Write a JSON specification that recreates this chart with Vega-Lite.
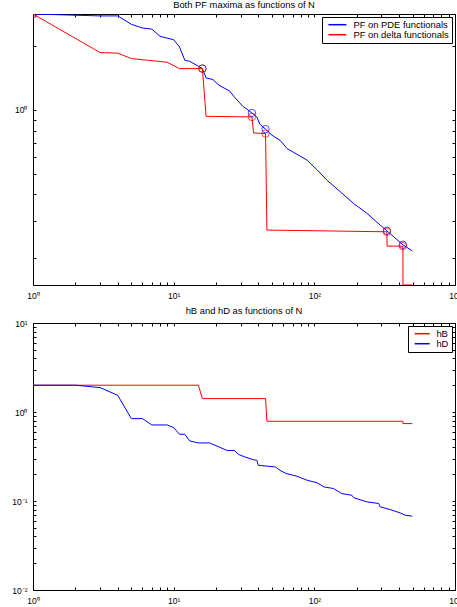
{
  "$schema": "https://vega.github.io/schema/vega-lite/v6.json",
  "padding": {"left": 11, "top": 0, "right": 0, "bottom": 0},
  "spacing": 5,
  "resolve": {"scale": {"color": "independent", "stroke": "independent"}, "legend": {"color": "independent"}},
  "config": {
    "font": "Liberation Sans",
    "view": {"stroke": null},
    "axis": {"grid": false, "title": null, "labelFontSize": 8.5, "labelColor": "#000", "tickColor": "#000", "domainColor": "#000", "domainWidth": 1, "tickSize": -3, "labelPadding": 9, "labelOverlap": false, "labelFlush": false},
    "title": {"fontSize": 9.4, "fontWeight": "normal", "color": "#000", "anchor": "middle", "offset": 3},
    "legend": {"title": null, "strokeColor": "#000", "fillColor": "#fff", "padding": 3, "labelFontSize": 9.4, "labelColor": "#000", "symbolStrokeWidth": 1.5, "orient": "none"}
  },
  "datasets": {
    "top": [
      {"N": 1, "v": 2.828, "s": "PF on PDE functionals"},
      {"N": 3, "v": 2.77, "s": "PF on PDE functionals"},
      {"N": 4, "v": 2.77, "s": "PF on PDE functionals"},
      {"N": 5, "v": 2.53, "s": "PF on PDE functionals"},
      {"N": 6, "v": 2.43, "s": "PF on PDE functionals"},
      {"N": 7, "v": 2.40, "s": "PF on PDE functionals"},
      {"N": 8, "v": 2.22, "s": "PF on PDE functionals"},
      {"N": 10, "v": 2.14, "s": "PF on PDE functionals"},
      {"N": 11, "v": 1.98, "s": "PF on PDE functionals"},
      {"N": 12, "v": 1.713, "s": "PF on PDE functionals"},
      {"N": 13, "v": 1.694, "s": "PF on PDE functionals"},
      {"N": 15, "v": 1.605, "s": "PF on PDE functionals"},
      {"N": 16, "v": 1.565, "s": "PF on PDE functionals"},
      {"N": 17, "v": 1.414, "s": "PF on PDE functionals"},
      {"N": 19, "v": 1.39, "s": "PF on PDE functionals"},
      {"N": 21, "v": 1.306, "s": "PF on PDE functionals"},
      {"N": 25, "v": 1.228, "s": "PF on PDE functionals"},
      {"N": 27, "v": 1.151, "s": "PF on PDE functionals"},
      {"N": 31, "v": 1.041, "s": "PF on PDE functionals"},
      {"N": 36, "v": 0.968, "s": "PF on PDE functionals"},
      {"N": 39, "v": 0.927, "s": "PF on PDE functionals"},
      {"N": 41, "v": 0.857, "s": "PF on PDE functionals"},
      {"N": 45, "v": 0.812, "s": "PF on PDE functionals"},
      {"N": 50, "v": 0.760, "s": "PF on PDE functionals"},
      {"N": 57, "v": 0.720, "s": "PF on PDE functionals"},
      {"N": 64, "v": 0.658, "s": "PF on PDE functionals"},
      {"N": 75, "v": 0.619, "s": "PF on PDE functionals"},
      {"N": 89, "v": 0.580, "s": "PF on PDE functionals"},
      {"N": 105, "v": 0.521, "s": "PF on PDE functionals"},
      {"N": 123, "v": 0.467, "s": "PF on PDE functionals"},
      {"N": 153, "v": 0.412, "s": "PF on PDE functionals"},
      {"N": 190, "v": 0.363, "s": "PF on PDE functionals"},
      {"N": 237, "v": 0.326, "s": "PF on PDE functionals"},
      {"N": 294, "v": 0.287, "s": "PF on PDE functionals"},
      {"N": 328, "v": 0.270, "s": "PF on PDE functionals"},
      {"N": 426, "v": 0.232, "s": "PF on PDE functionals"},
      {"N": 497, "v": 0.217, "s": "PF on PDE functionals"},
      {"N": 1, "v": 2.828, "s": "PF on delta functionals"},
      {"N": 3, "v": 1.862, "s": "PF on delta functionals"},
      {"N": 4, "v": 1.85, "s": "PF on delta functionals"},
      {"N": 5, "v": 1.745, "s": "PF on delta functionals"},
      {"N": 9, "v": 1.676, "s": "PF on delta functionals"},
      {"N": 11, "v": 1.565, "s": "PF on delta functionals"},
      {"N": 16, "v": 1.565, "s": "PF on delta functionals"},
      {"N": 17, "v": 0.933, "s": "PF on delta functionals"},
      {"N": 36, "v": 0.927, "s": "PF on delta functionals"},
      {"N": 37, "v": 0.779, "s": "PF on delta functionals"},
      {"N": 45, "v": 0.774, "s": "PF on delta functionals"},
      {"N": 46, "v": 0.272, "s": "PF on delta functionals"},
      {"N": 328, "v": 0.267, "s": "PF on delta functionals"},
      {"N": 329, "v": 0.2286, "s": "PF on delta functionals"},
      {"N": 426, "v": 0.2286, "s": "PF on delta functionals"},
      {"N": 427, "v": 0.15, "s": "PF on delta functionals"},
      {"N": 497, "v": 0.15, "s": "PF on delta functionals"}
    ],
    "marks": [
      {"N": 1, "v": 2.828, "s": "PF on PDE functionals"},
      {"N": 16, "v": 1.565, "s": "PF on PDE functionals"},
      {"N": 36, "v": 0.968, "s": "PF on PDE functionals"},
      {"N": 45, "v": 0.812, "s": "PF on PDE functionals"},
      {"N": 328, "v": 0.270, "s": "PF on PDE functionals"},
      {"N": 426, "v": 0.232, "s": "PF on PDE functionals"},
      {"N": 1, "v": 2.828, "s": "PF on delta functionals"},
      {"N": 16, "v": 1.565, "s": "PF on delta functionals"},
      {"N": 36, "v": 0.927, "s": "PF on delta functionals"},
      {"N": 45, "v": 0.774, "s": "PF on delta functionals"},
      {"N": 328, "v": 0.267, "s": "PF on delta functionals"},
      {"N": 426, "v": 0.2286, "s": "PF on delta functionals"}
    ],
    "bot": [
      {"N": 1, "v": 2.0, "s": "hB"},
      {"N": 15, "v": 2.0, "s": "hB"},
      {"N": 16, "v": 1.414, "s": "hB"},
      {"N": 45, "v": 1.414, "s": "hB"},
      {"N": 46, "v": 0.787, "s": "hB"},
      {"N": 426, "v": 0.787, "s": "hB"},
      {"N": 427, "v": 0.741, "s": "hB"},
      {"N": 497, "v": 0.741, "s": "hB"},
      {"N": 1, "v": 2.0, "s": "hD"},
      {"N": 2, "v": 2.0, "s": "hD"},
      {"N": 3, "v": 1.88, "s": "hD"},
      {"N": 4, "v": 1.54, "s": "hD"},
      {"N": 5, "v": 0.843, "s": "hD"},
      {"N": 6, "v": 0.843, "s": "hD"},
      {"N": 7, "v": 0.715, "s": "hD"},
      {"N": 9, "v": 0.715, "s": "hD"},
      {"N": 10, "v": 0.668, "s": "hD"},
      {"N": 11, "v": 0.562, "s": "hD"},
      {"N": 12, "v": 0.562, "s": "hD"},
      {"N": 13, "v": 0.473, "s": "hD"},
      {"N": 15, "v": 0.449, "s": "hD"},
      {"N": 18, "v": 0.449, "s": "hD"},
      {"N": 21, "v": 0.405, "s": "hD"},
      {"N": 24, "v": 0.369, "s": "hD"},
      {"N": 27, "v": 0.369, "s": "hD"},
      {"N": 29, "v": 0.333, "s": "hD"},
      {"N": 32, "v": 0.313, "s": "hD"},
      {"N": 37, "v": 0.290, "s": "hD"},
      {"N": 39, "v": 0.287, "s": "hD"},
      {"N": 40, "v": 0.252, "s": "hD"},
      {"N": 53, "v": 0.241, "s": "hD"},
      {"N": 57, "v": 0.221, "s": "hD"},
      {"N": 63, "v": 0.204, "s": "hD"},
      {"N": 75, "v": 0.190, "s": "hD"},
      {"N": 89, "v": 0.171, "s": "hD"},
      {"N": 105, "v": 0.160, "s": "hD"},
      {"N": 117, "v": 0.144, "s": "hD"},
      {"N": 137, "v": 0.138, "s": "hD"},
      {"N": 157, "v": 0.121, "s": "hD"},
      {"N": 185, "v": 0.116, "s": "hD"},
      {"N": 190, "v": 0.109, "s": "hD"},
      {"N": 237, "v": 0.0977, "s": "hD"},
      {"N": 287, "v": 0.0937, "s": "hD"},
      {"N": 294, "v": 0.0859, "s": "hD"},
      {"N": 346, "v": 0.0802, "s": "hD"},
      {"N": 408, "v": 0.0734, "s": "hD"},
      {"N": 442, "v": 0.0692, "s": "hD"},
      {"N": 497, "v": 0.0675, "s": "hD"}
    ]
  },
  "vconcat": [
    {
      "width": 422,
      "height": 271,
      "title": "Both PF maxima as functions of N",
      "layer": [
        {
          "data": {"name": "top"},
          "mark": {"type": "line", "strokeWidth": 1, "clip": true},
          "encoding": {
            "x": {"field": "N", "type": "quantitative", "scale": {"type": "log", "domain": [1, 1000], "nice": false},
              "axis": {"orient": "bottom", "values": [1,2,3,4,5,6,7,8,9,10,20,30,40,50,60,70,80,90,100,200,300,400,500,600,700,800,900,1000],
                "labelExpr": "datum.value==1?'10⁰':datum.value==10?'10¹':datum.value==100?'10²':datum.value==1000?'10³':''"}},
            "y": {"field": "v", "type": "quantitative", "scale": {"type": "log", "domain": [0.15, 2.828], "nice": false},
              "axis": {"orient": "left", "values": [0.2,0.3,0.4,0.5,0.6,0.7,0.8,0.9,1,2],
                "labelExpr": "datum.value==1?'10⁰':''"}},
            "color": {"field": "s", "type": "nominal",
              "scale": {"domain": ["PF on PDE functionals", "PF on delta functionals"], "range": ["#0000ff", "#ff0000"]},
              "legend": {"symbolType": "M-3,0H3", "symbolSize": 36, "symbolOffset": 7.7, "labelOffset": 11.3, "rowPadding": -5.5, "legendX": 289, "legendY": 3}},
            "order": {"field": "N", "type": "quantitative"}
          }
        },
        {
          "data": {"name": "marks"},
          "mark": {"type": "point", "shape": "circle", "filled": false, "size": 55, "strokeWidth": 1, "clip": true},
          "encoding": {
            "x": {"field": "N", "type": "quantitative", "scale": {"type": "log", "domain": [1, 1000], "nice": false},
              "axis": {"orient": "top", "labels": false, "values": [1,2,3,4,5,6,7,8,9,10,20,30,40,50,60,70,80,90,100,200,300,400,500,600,700,800,900,1000]}},
            "y": {"field": "v", "type": "quantitative", "scale": {"type": "log", "domain": [0.15, 2.828], "nice": false},
              "axis": {"orient": "right", "labels": false, "values": [0.2,0.3,0.4,0.5,0.6,0.7,0.8,0.9,1,2]}},
            "stroke": {"field": "s", "type": "nominal",
              "scale": {"domain": ["PF on PDE functionals", "PF on delta functionals"], "range": ["#0000ff", "#ff0000"]},
              "legend": null}
          }
        }
      ]
    },
    {
      "width": 422,
      "height": 267,
      "title": "hB and hD as functions of N",
      "layer": [
        {
          "data": {"name": "bot"},
          "mark": {"type": "line", "strokeWidth": 1, "clip": true},
          "encoding": {
            "x": {"field": "N", "type": "quantitative", "scale": {"type": "log", "domain": [1, 1000], "nice": false},
              "axis": {"orient": "bottom", "values": [1,2,3,4,5,6,7,8,9,10,20,30,40,50,60,70,80,90,100,200,300,400,500,600,700,800,900,1000],
                "labelExpr": "datum.value==1?'10⁰':datum.value==10?'10¹':datum.value==100?'10²':datum.value==1000?'10³':''"}},
            "y": {"field": "v", "type": "quantitative", "scale": {"type": "log", "domain": [0.01, 10], "nice": false},
              "axis": {"orient": "left", "values": [0.01,0.02,0.03,0.04,0.05,0.06,0.07,0.08,0.09,0.1,0.2,0.3,0.4,0.5,0.6,0.7,0.8,0.9,1,2,3,4,5,6,7,8,9,10],
                "labelExpr": "datum.value==0.01?'10⁻²':datum.value==0.1?'10⁻¹':datum.value==1?'10⁰':datum.value==10?'10¹':''"}},
            "color": {"field": "s", "type": "nominal",
              "scale": {"domain": ["hB", "hD"], "range": ["#ff0000", "#0000ff"]},
              "legend": {"symbolType": "M-2.5,0H2.5", "symbolSize": 36, "symbolOffset": 6.5, "labelOffset": 9.5, "rowPadding": -1, "legendX": 375, "legendY": 3}},
            "order": {"field": "N", "type": "quantitative"}
          }
        },
        {
          "data": {"name": "bot"},
          "mark": {"type": "rule", "opacity": 0},
          "encoding": {
            "x": {"field": "N", "type": "quantitative", "scale": {"type": "log", "domain": [1, 1000], "nice": false},
              "axis": {"orient": "top", "labels": false, "values": [1,2,3,4,5,6,7,8,9,10,20,30,40,50,60,70,80,90,100,200,300,400,500,600,700,800,900,1000]}},
            "y": {"field": "v", "type": "quantitative", "scale": {"type": "log", "domain": [0.01, 10], "nice": false},
              "axis": {"orient": "right", "labels": false, "values": [0.01,0.02,0.03,0.04,0.05,0.06,0.07,0.08,0.09,0.1,0.2,0.3,0.4,0.5,0.6,0.7,0.8,0.9,1,2,3,4,5,6,7,8,9,10]}}
          }
        }
      ]
    }
  ]
}
